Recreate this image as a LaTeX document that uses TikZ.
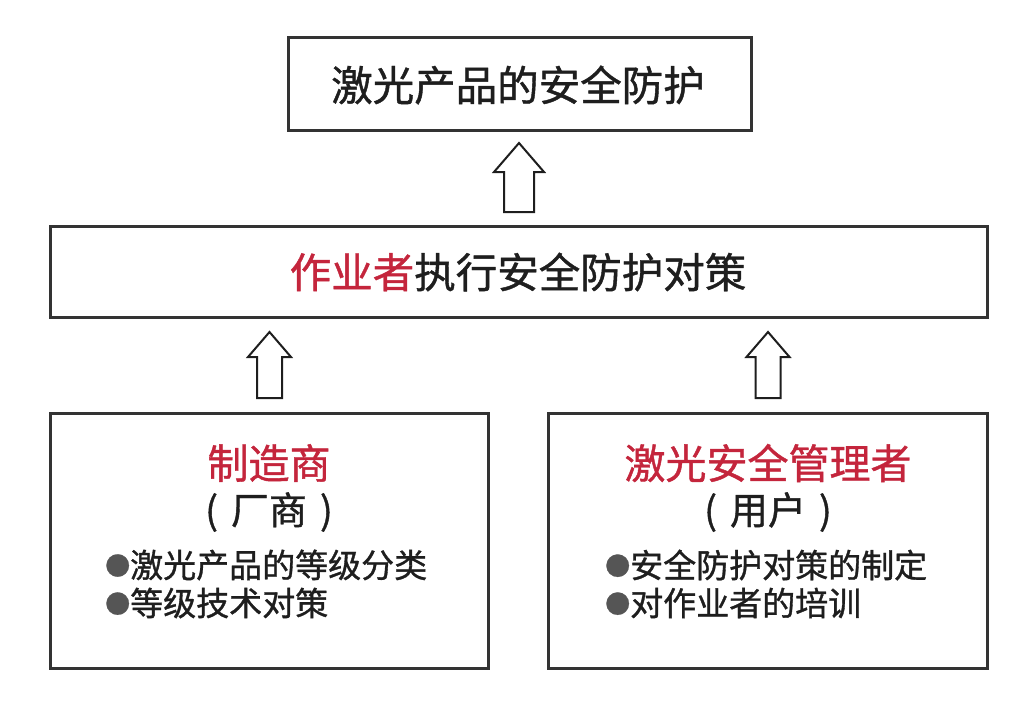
\documentclass[tikz,border=0pt]{standalone}
\usepackage{fontspec}
\newfontfamily\cjk[FakeBold=1]{Noto Sans CJK SC}
\definecolor{redtxt}{HTML}{C4253C}
\definecolor{darktxt}{HTML}{1E1E1E}
\definecolor{boxline}{HTML}{333333}
\definecolor{bulgray}{HTML}{555555}
\tikzset{
  box/.style={draw=boxline, line width=3pt, fill=white, inner sep=0pt},
  arrowline/.style={draw=darktxt, line width=2pt, fill=white, line join=miter},
  txt/.style={inner sep=0pt, text=darktxt, font=\cjk},
}
\newcommand{\bul}{\raisebox{2.5pt}{\fontsize{25}{28}\selectfont\textcolor{bulgray}{●}}}
\begin{document}
\begin{tikzpicture}[x=1pt, y=-1pt]
\useasboundingbox (0,0) rectangle (1032,707);
% boxes
\node[box, minimum width=463pt, minimum height=93pt] (top) at (519.5,83.5) {};
\node[box, minimum width=937pt, minimum height=91pt] (mid) at (518.5,271.5) {};
\node[box, minimum width=438pt, minimum height=255pt] (bl) at (269,540.5) {};
\node[box, minimum width=439pt, minimum height=255pt] (br) at (767.5,540.5) {};
% texts
\node[txt, font=\cjk\fontsize{41.5}{46}\selectfont] (toptxt) at (518,85) {激光产品的安全防护};
\node[txt, font=\cjk\fontsize{41.5}{46}\selectfont] (midtxt) at (518,272) {\textcolor{redtxt}{作业者}执行安全防护对策};
\node[txt, text=redtxt, font=\cjk\fontsize{41}{45}\selectfont] (bl1) at (269,463) {制造商};
\node[txt, font=\cjk\fontsize{38}{42}\selectfont] (bl2) at (269,512) {(\hspace{13pt}厂商\hspace{13pt})};
\node[txt, anchor=west, font=\cjk\fontsize{33}{36}\selectfont] (bl3) at (105,565) {\bul 激光产品的等级分类};
\node[txt, anchor=west, font=\cjk\fontsize{33}{36}\selectfont] (bl4) at (105,603) {\bul 等级技术对策};
\node[txt, text=redtxt, font=\cjk\fontsize{41}{45}\selectfont] (br1) at (768,463) {激光安全管理者};
\node[txt, font=\cjk\fontsize{38}{42}\selectfont] (br2) at (768,512) {(\hspace{13pt}用户\hspace{13pt})};
\node[txt, anchor=west, font=\cjk\fontsize{33}{36}\selectfont] (br3) at (605,565) {\bul 安全防护对策的制定};
\node[txt, anchor=west, font=\cjk\fontsize{33}{36}\selectfont] (br4) at (605,603) {\bul 对作业者的培训};
% arrows
\coordinate (a1) at (519,212);
\coordinate (a2) at (269.5,398);
\coordinate (a3) at (768,398);
\draw[arrowline, shift={(a1)}] (-15,0) -- (-15,-40) -- (-25,-40) -- (0,-69) -- (25,-40) -- (15,-40) -- (15,0) -- cycle;
\draw[arrowline, shift={(a2)}] (-12.5,0) -- (-12.5,-41) -- (-21.5,-41) -- (0,-66) -- (21.5,-41) -- (12.5,-41) -- (12.5,0) -- cycle;
\draw[arrowline, shift={(a3)}] (-12.5,0) -- (-12.5,-41) -- (-21.5,-41) -- (0,-66) -- (21.5,-41) -- (12.5,-41) -- (12.5,0) -- cycle;
\end{tikzpicture}
\end{document}
